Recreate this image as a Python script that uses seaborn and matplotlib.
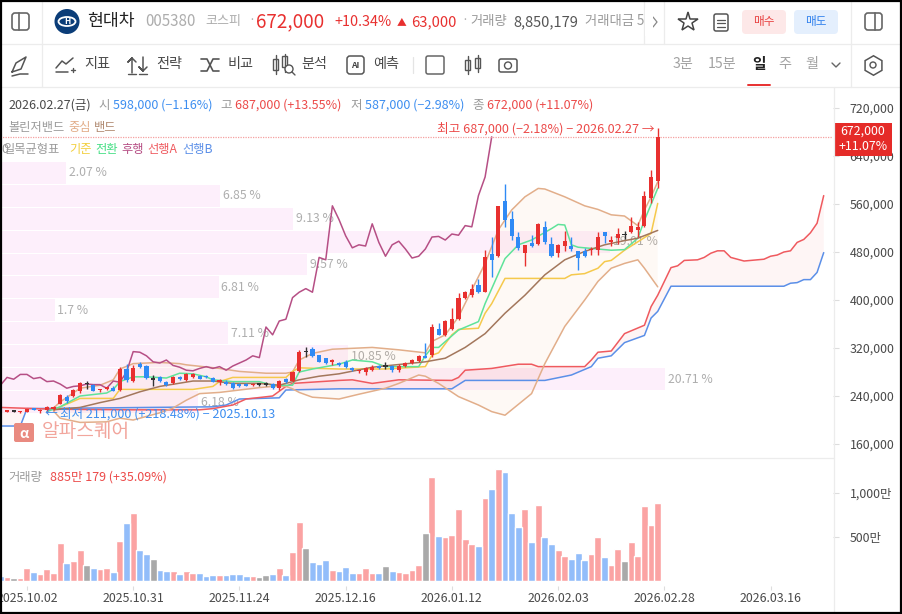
import matplotlib
matplotlib.use('Agg')
import matplotlib.pyplot as plt
from matplotlib.patches import Rectangle, Circle, Ellipse, FancyBboxPatch
import numpy as np
import pandas as pd
import seaborn as sns

# daily candles, thousand won
opens = [216,214,214,213,214,219,215,217,218,227,238,240,248,260,258,250,252,254,250,285,
         265,293,290,267,272,263,261,272,267,271,273,274,270,264,264,262,260,260,258,259,
         259,260,253,268,265,281,313,318,308,303,297,295,297,287,281,280,283,290,289,290,
         283,290,295,298,305,308,352,342,352,368,404,408,425,414,476,473,565,535,505,479,
         495,493,522,493,479,490,490,481,482,483,483,513,497,503,508,513,517,524,570,598]
highs = [217,216,215,215,219,220,218,224,224,243,242,252,264,265,260,252,255,256,288,293,
         292,296,291,275,274,265,273,273,278,278,275,275,271,269,266,264,261,261,261,261,
         263,261,267,270,282,316,322,321,309,304,302,296,300,288,283,288,292,291,297,291,
         293,297,302,309,328,360,362,366,387,411,415,427,435,484,505,557,593,549,513,492,
         508,529,532,505,493,515,505,482,486,488,514,514,507,520,515,539,530,581,617,687]
lows = [214,213,213,212,213,216,212,211,216,226,228,238,245,252,248,246,250,248,248,264,
        264,287,269,257,264,257,260,266,265,270,269,270,263,258,258,252,255,256,257,257,
        257,252,250,262,264,280,305,305,296,294,291,290,287,282,279,275,281,285,285,280,
        280,288,293,296,303,305,341,340,350,366,402,405,411,413,438,471,522,500,483,456,
        488,491,494,472,472,482,481,450,471,475,475,495,490,493,502,512,505,522,562,587]
closes = [215,215,214,214,218,217,217,222,222,242,232,250,261,260,248,252,255,249,285,266,
          286,288,270,267,265,258,271,268,276,276,269,271,264,265,260,253,256,257,260,259,
          259,253,265,263,280,314,313,307,297,295,300,291,288,283,282,286,289,286,289,283,
          290,295,300,307,304,355,342,365,368,404,413,419,413,471,467,557,534,507,487,492,
          490,527,496,473,492,498,485,470,473,485,505,506,500,510,508,524,522,574,605,672]

# volume in units of 10,000 shares and bar colour class
volumes = [53,42,34,30,148,102,76,136,91,424,205,220,345,182,148,136,148,102,451,659,
           766,345,300,243,125,114,114,76,114,91,91,53,64,64,64,76,76,53,53,42,
           64,76,148,64,322,671,368,216,193,231,125,110,159,91,91,148,91,91,171,114,
           102,91,125,182,542,1182,508,493,519,811,470,413,390,936,1042,1273,1239,766,610,811,
           436,857,493,413,345,284,250,311,231,300,493,265,182,356,227,436,277,845,633,885]
vol_kind = ['d','u','n','u','u','d','u','u','u','u','d','u','u','n','d','u','u','d','u','d',
            'u','d','d','n','d','d','u','d','u','u','d','d','d','u','d','d','d','d','u','n',
            'n','d','u','d','u','u','n','d','d','d','u','d','d','d','u','u','u','d','n','d',
            'u','u','u','u','n','u','d','u','u','u','u','u','d','u','d','u','d','d','d','u',
            'd','u','d','d','u','u','d','d','d','u','u','d','u','u','n','u','u','u','u','u']

# lagging span
lagging = [258,271,268,276,276,269,271,264,265,260,253,256,257,260,259,259,253,265,263,280,
           314,313,307,297,295,300,291,288,283,282,286,289,286,289,283,290,295,300,307,304,
           355,342,365,368,404,413,419,413,471,467,557,534,507,487,492,490,527,496,473,492,
           498,485,470,473,485,505,506,500,510,508,524,522,574,605,672]

# lines read at their corners: bar number, price
bb_up_i = [8,9,12,15,17,18,20,24,27,28,33,36,40,43,44,45,47,50,56,60,64,65,67,69,71,73,75,77,79,81,82,85,88,90,92,94,96,97,98,99]
bb_up = [220,230,253,258,267,285,294,296,294,292,286,281,278,278,280,300,311,318,321,317,312,331,342,372,417,461,517,550,572,586,585,572,557,551,542,540,524,550,572,597]
bb_low_i = [8,9,12,16,18,20,24,26,28,30,33,36,39,41,43,44,45,47,51,54,58,60,63,64,66,69,72,74,76,77,80,82,85,88,90,92,94,96,97,99]
bb_low = [215,203,196,197,203,200,212,220,233,244,246,250,254,256,256,252,246,238,235,243,253,261,275,273,261,239,225,214,208,217,244,294,356,400,431,453,461,467,453,422]
bb_mid_i = [8,12,15,18,21,24,29,32,35,39,42,45,48,51,56,64,67,70,73,76,79,82,85,88,91,94,96,99]
bb_mid = [217,221,229,236,247,256,265,265,261,261,258,267,273,277,288,297,303,321,344,378,408,442,467,481,492,499,503,516]
base_i = [8,12,17,18,25,29,32,33,35,39,43,44,45,51,58,64,65,66,68,69,72,73,74,76,80,85,86,88,90,91,92,94,96,98,99]
base = [217,236,236,251,251,251,256,264,271,271,271,281,287,285,285,289,308,312,342,351,353,378,394,436,436,436,442,444,453,464,466,483,497,511,561]
conv_i = [7,9,12,16,17,18,20,22,25,27,29,31,32,35,39,41,44,45,47,51,53,56,58,63,64,65,66,69,72,73,76,78,80,83,84,85,86,87,92,94,96,97,99]
conv = [214,222,240,245,251,264,272,272,270,278,277,272,267,264,264,258,258,280,285,293,300,297,289,289,307,321,321,350,364,394,469,492,500,519,526,525,492,488,483,484,503,533,586]
span_a_i = [0,8,20,30,32,35,37,41,43,44,51,53,56,60,68,69,70,74,78,80,81,88,89,90,92,94,97,98,99,101,102,103,105,106,107,108,109,110,112,115,116,117,118,119,120,121,122,123,124]
span_a = [221,218,217,217,219,225,235,240,256,261,266,267,261,267,266,271,283,286,293,293,289,289,300,313,315,344,358,389,408,454,457,466,467,471,478,482,482,471,465,468,473,475,480,482,496,501,512,528,574]
span_b_i = [0,3,4,32,34,36,42,43,51,68,70,82,86,89,90,92,94,97,98,99,101,118,119,120,121,122,123,124]
span_b = [190,190,219,222,225,235,237,250,252,252,266,266,275,289,303,307,329,341,370,381,423,423,428,429,434,434,446,479]

# price-volume profile, top to bottom
profile_pct = [2.07,6.85,9.13,19.01,9.57,6.81,1.7,7.11,10.85,20.71,6.18]
profile_price = [612,573.8,535.6,497.4,459.2,421,382.8,344.6,306.4,268.2,230]

price_ticks = [720,640,560,480,400,320,240,160]
vol_ticks = [500,1000]
date_pos = [4,20,36,52,68,84,100,116]
date_labels = ['2025.10.02','2025.10.31','2025.11.24','2025.12.16','2026.01.12','2026.02.03','2026.02.28','2026.03.16']

RED = '#e8302f'
BLUE = '#2f8af5'
TXT = '#4a4a4a'
GREY = '#9a9a9a'
W, H = 902, 614

sns.set_theme(style="white")
plt.rcParams['font.family'] = ['Noto Sans CJK KR', 'DejaVu Sans']
plt.rcParams['axes.unicode_minus'] = False

fig = plt.figure(figsize=(W / 100, H / 100), dpi=100, facecolor='white')

def pane(top, bottom):
    return fig.add_axes([0, 1 - bottom / H, 833 / W, (bottom - top) / H])

# bottom layer holds the profile, candles sit on a see-through copy
ax_prof = pane(92, 458)
ax = pane(92, 458)
ax.patch.set_alpha(0)
ax_vol = pane(458, 586)
xlim = (-0.06, 125.4)
ylim = (136.7, 746.7)

ax_prof.barh(profile_price, profile_pct, height=36.5, color='#fdeffb', linewidth=0)
for pct, price in zip(profile_pct, profile_price):
    ax_prof.annotate(f'{pct:g} %', (pct, price), xytext=(2, 0), textcoords='offset points',
                     va='center', ha='left', fontsize=8.8, color='#aeaeae')
ax_prof.set_xlim(0, 833 / 32.1)
ax_prof.set_ylim(ylim)
ax_prof.axis('off')

# clouds and bollinger fill
ax.fill(np.r_[bb_up_i, bb_low_i[::-1]], np.r_[bb_up, bb_low[::-1]], color='#fb9a3c', alpha=0.05, lw=0, zorder=1)
ax.fill(np.r_[span_a_i, span_b_i[::-1]], np.r_[span_a, span_b[::-1]], color='#f5555c', alpha=0.06, lw=0, zorder=1)

lines = [
    (span_b_i, span_b, '#5b8fe8'),
    (span_a_i, span_a, '#ef5a5f'),
    (bb_up_i, bb_up, '#e2ae8a'),
    (bb_low_i, bb_low, '#e2ae8a'),
    (range(len(lagging)), lagging, '#b64f85'),
    (base_i, base, '#f5c94c'),
    (conv_i, conv, '#5fe39a'),
    (bb_mid_i, bb_mid, '#a3775c'),
]
for xs, ys, col in lines:
    sns.lineplot(x=list(xs), y=ys, color=col, linewidth=1.1, ax=ax, zorder=2, errorbar=None, estimator=None)

df = pd.DataFrame({'o': opens, 'h': highs, 'l': lows, 'c': closes})
df['col'] = np.where(df.c > df.o, RED, np.where(df.c < df.o, BLUE, '#333333'))
ax.vlines(df.index, df.l, df.h, colors=df.col, linewidth=1.0, zorder=3)
ax.bar(df.index, np.maximum((df.c - df.o).abs(), 2.5), bottom=df[['o', 'c']].min(axis=1),
       width=0.62, color=df.col, linewidth=0, zorder=4)
ax.axhline(closes[-1], color='#f5a0a0', linewidth=0.9, linestyle=(0, (1, 1)), zorder=3)

ax.set_xlim(xlim)
ax.set_ylim(ylim)
ax.set_xticks([])
ax.set_yticks([p for p in price_ticks], [f'{p:,},000' for p in price_ticks])
ax.yaxis.tick_right()
ax.tick_params(axis='y', length=4, width=0.8, color='#dddddd', pad=8, labelsize=8.9, labelcolor=TXT, right=True)
ax.set_ylabel('')
for s in ax.spines.values():
    s.set_visible(False)

vdf = pd.DataFrame({'bar': range(len(volumes)), 'vol': volumes, 'kind': vol_kind})
sns.barplot(data=vdf, x='bar', y='vol', hue='kind', hue_order=['u', 'd', 'n'],
            palette={'u': '#fba3a3', 'd': '#92bdfa', 'n': '#a9a9a9'}, native_scale=True,
            dodge=False, width=1.05, legend=False, saturation=1, ax=ax_vol)
ax_vol.set_xlim(xlim)
ax_vol.set_ylim(-60, 1394)
ax_vol.set_xlabel('')
ax_vol.set_ylabel('')
ax_vol.set_xticks(date_pos, date_labels)
ax_vol.tick_params(axis='x', length=3, width=0.8, color='#dddddd', pad=1, labelsize=8.9, labelcolor=TXT, bottom=True)
ax_vol.set_yticks(vol_ticks, ['500만', '1,000만'])
ax_vol.yaxis.tick_right()
ax_vol.tick_params(axis='y', length=4, width=0.8, color='#dddddd', pad=8, labelsize=8.9, labelcolor=TXT, right=True)
for s in ax_vol.spines.values():
    s.set_visible(False)

# overlay in screen pixels for the app chrome
ui = fig.add_axes([0, 0, 1, 1], zorder=10)
ui.set_xlim(0, W)
ui.set_ylim(H, 0)
ui.axis('off')
ui.patch.set_alpha(0)

def t(x, y, s, color=TXT, size=9.0, ha='left', weight='normal', zorder=5):
    return ui.text(x, y, s, color=color, fontsize=size, ha=ha, va='center', weight=weight, zorder=zorder)

def seg(xs, ys, color='#555555', lw=1.1):
    ui.plot(xs, ys, color=color, lw=lw, solid_capstyle='round', zorder=5)

def rect(x, y, w, h, fc='none', ec='#555555', lw=1.1, r=0, zorder=4):
    if r:
        p = FancyBboxPatch((x, y), w, h, boxstyle=f'round,pad=0,rounding_size={r}', fc=fc, ec=ec, lw=lw, zorder=zorder)
    else:
        p = Rectangle((x, y), w, h, fc=fc, ec=ec, lw=lw, zorder=zorder)
    ui.add_patch(p)

# separators
for xs, ys in [((0, W), (44, 44)), ((0, W), (87, 87)), ((42, 42), (0, 87)), ((851, 851), (0, 87)),
               ((644, 644), (0, 44)), ((664, 664), (0, 44)), ((834, 834), (87, 612)), ((0, 834), (458, 458))]:
    seg(xs, ys, '#ececec', 0.9)

# header row
rect(12, 13, 17, 17, ec='#666666', lw=1.2, r=3)
seg((19, 19), (13, 30), '#666666', 1.2)
ui.add_patch(Circle((67, 21.5), 12.5, fc='#0b3d78', ec='none', zorder=4))
ui.add_patch(Ellipse((67, 21.5), 17, 9, fc='none', ec='white', lw=1.3, zorder=5))
t(67, 21.5, 'H', 'white', 6, ha='center', weight='bold')
t(87, 21, '현대차', '#222222', 12.4, weight='medium')
t(145, 22, '005380', '#adadad', 10.9)
t(205, 21, '코스피', '#adadad', 9.4)
t(248, 21, '·', '#adadad', 9)
t(256, 21.5, '672,000', RED, 13.6, weight='medium')
t(334, 22, '+10.34%', RED, 10.4)
t(397, 22, '▲', RED, 7)
t(411, 22, '63,000', RED, 10.6)
t(461, 21, '·', '#adadad', 9)
t(470, 21, '거래량', GREY, 9.6)
t(513, 22, '8,850,179', '#555555', 10.5)
txt = t(585, 21, '거래대금 5', GREY, 9.6)
rect(645, 8, 8, 28, fc='white', ec='none', zorder=6)
seg((653, 657, 653), (17, 22, 27), '#888888', 0.9)
ui.plot([688], [22], marker='*', ms=15, mfc='white', mec='#444444', mew=1.1, zorder=5)
rect(714, 14, 14, 17, ec='#555555', lw=1.1, r=2)
for yy in (19.5, 23, 26.5):
    seg((717, 725), (yy, yy), '#555555', 0.9)
rect(742, 10, 44, 24, fc='#fde8e8', ec='none', r=4)
t(764, 21, '매수', '#e8403f', 8.4, ha='center', weight='medium')
rect(794, 10, 44, 24, fc='#e4effd', ec='none', r=4)
t(816, 21, '매도', '#2f80ed', 8.4, ha='center', weight='medium')
rect(865, 13, 17, 17, ec='#666666', lw=1.2, r=3)
seg((875, 875), (13, 30), '#666666', 1.2)

# toolbar row
seg((12, 16, 26, 21, 12), (72, 63, 57, 69, 72), '#555555', 1.1)
seg((12, 20, 28), (76, 74, 74), '#555555', 1.1)
seg((56, 62, 66, 73), (68, 61, 64, 58), '#555555', 1.1)
seg((56, 68), (72, 72), '#555555', 1.1)
seg((71, 75), (70, 70), '#555555', 1)
seg((73, 73), (68, 72), '#555555', 1)
t(84, 64, '지표', TXT, 10.2)
seg((132, 132, 128, 132, 136), (73, 58, 62, 58, 62), '#555555', 1.1)
seg((143, 143, 139, 143, 147), (57, 71, 67, 71, 67), '#555555', 1.1)
seg((128, 136), (74, 74), '#555555', 1)
seg((139, 147), (74, 74), '#555555', 1)
t(156, 64, '전략', TXT, 10.2)
seg((201, 207, 213, 219), (59, 59, 71, 71), '#555555', 1.2)
seg((201, 207, 213, 219), (71, 71, 59, 59), '#555555', 1.2)
t(228, 64, '비교', TXT, 10.2)
rect(273, 59, 5, 11, ec='#555555', lw=1)
seg((275.5, 275.5), (55, 74), '#555555', 1)
rect(282, 56, 5, 11, ec='#555555', lw=1)
seg((284.5, 284.5), (54, 72), '#555555', 1)
ui.add_patch(Circle((289, 69), 4, fc='white', ec='#555555', lw=1, zorder=5))
seg((292, 295), (72, 75), '#555555', 1)
t(301, 64, '분석', TXT, 10.2)
rect(347, 56, 17, 18, ec='#555555', lw=1.1, r=3)
t(355.5, 65, 'AI', '#444444', 6.2, ha='center', weight='bold')
t(373, 64, '예측', TXT, 10.2)
seg((413, 413), (57, 73), '#e4e4e4', 0.9)
rect(426, 56, 18, 18, ec='#666666', lw=1.1, r=2)
rect(465, 60, 5, 10, ec='#555555', lw=1)
seg((467.5, 467.5), (56, 74), '#555555', 1)
rect(475, 58, 5, 10, ec='#555555', lw=1)
seg((477.5, 477.5), (55, 72), '#555555', 1)
rect(499, 59, 18, 13, ec='#555555', lw=1.1, r=2)
ui.add_patch(Circle((508, 65.5), 3.5, fc='none', ec='#555555', lw=1, zorder=5))
t(673, 64, '3분', '#a2a2a2', 10.2)
t(708, 64, '15분', '#a2a2a2', 10.2)
t(752, 64, '일', '#222222', 10.6, weight='bold')
t(778, 64, '주', '#a2a2a2', 10.2)
t(805, 64, '월', '#a2a2a2', 10.2)
seg((832, 836, 840), (63, 67, 63), '#666666', 1)
seg((748, 770), (84.5, 84.5), '#e8302f', 1.4)
ui.plot([873], [65], marker='h', ms=14, mfc='white', mec='#555555', mew=1.1, zorder=5)
ui.add_patch(Circle((873, 65), 3, fc='white', ec='#555555', lw=1, zorder=6))

# info lines
SB = '#3d8ef0'
SR = '#ec4a49'
t(8, 105, '2026.02.27(금)', '#4a4a4a', 9)
t(98, 105, '시', GREY, 9)
t(113, 105, '598,000 (−1.16%)', SB, 9)
t(220, 105, '고', GREY, 9)
t(235, 105, '687,000 (+13.55%)', SR, 9)
t(350, 105, '저', GREY, 9)
t(365, 105, '587,000 (−2.98%)', SB, 9)
t(472, 105, '종', GREY, 9)
t(487, 105, '672,000 (+11.07%)', SR, 9)
t(8, 127.5, '볼린저밴드', GREY, 8.8)
t(68, 127.5, '중심', '#e2ae8a', 8.8)
t(94, 127.5, '밴드', '#b18b72', 8.8)
t(1, 149.5, '0', GREY, 8.8)
t(3, 149.5, '일목균형표', GREY, 8.8)
t(69, 149.5, '기준', '#f2cf3d', 8.8)
t(95, 149.5, '전환', '#45df84', 8.8)
t(121, 149.5, '후행', '#b64f85', 8.8)
t(147, 149.5, '선행A', '#ef5a5f', 8.8)
t(182, 149.5, '선행B', '#5b8fe8', 8.8)
t(437, 129, '최고 687,000 (−2.18%) − 2026.02.27 →', SR, 9.1)
t(45, 413.5, '←', SB, 9.2)
t(60, 413.5, '최저 211,000 (+218.48%) − 2025.10.13', SB, 9.05)

# watermark
rect(14, 423, 20, 19, fc='#e98a80', ec='none', r=2)
t(24, 433.5, 'α', 'white', 10, ha='center', weight='bold')
t(42, 431.5, '알파스퀘어', '#f2a69d', 13.8)

# current price tag
rect(834, 123, 58, 33, fc='#e52b28', ec='none')
t(863, 131.5, '672,000', 'white', 8.9, ha='center')
t(863, 147, '+11.07%', 'white', 8.9, ha='center')

t(8, 477, '거래량', GREY, 8.8)
t(50, 477, '885만 179 (+35.09%)', SR, 9)

# outer frame
rect(0.5, 0.5, W - 2, H - 2, ec='black', lw=1.6, zorder=9)

fig.savefig('out.png', dpi=100, facecolor='white')
plt.close(fig)
